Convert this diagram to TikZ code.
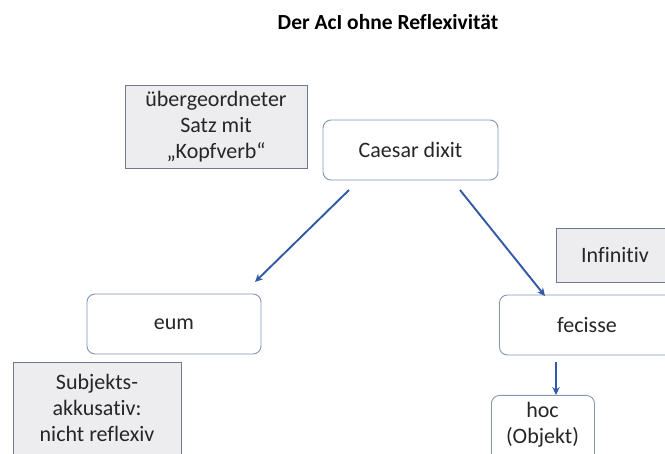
\documentclass[tikz,border=0pt]{standalone}
\usepackage{fontspec}
\setmainfont{Carlito}[Ligatures=NoCommon]
\usetikzlibrary{arrows.meta}
\definecolor{boxline}{HTML}{8496B0}
\definecolor{greyfill}{HTML}{EDEDEF}
\definecolor{greyline}{HTML}{6E7A8C}
\definecolor{arrowc}{HTML}{3159A8}
\definecolor{textc}{HTML}{262626}
\tikzset{
  roundbox/.style={draw=boxline, line width=0.9pt, rounded corners=8pt, fill=white, text=textc, font=\fontsize{22}{26}\selectfont, align=center},
  greybox/.style={draw=greyline, line width=0.9pt, fill=greyfill, text=textc, font=\fontsize{22}{26}\selectfont, align=center},
  lbl/.style={text=textc, font=\fontsize{22}{26}\selectfont, align=center, inner sep=0pt},
  arr/.style={draw=arrowc, line width=1.9pt, -{Stealth[length=8pt,width=7.5pt]}},
}
\begin{document}
\begin{tikzpicture}[x=1pt,y=-1pt]
\useasboundingbox (0,0) rectangle (665,454);
\clip (0,0) rectangle (665,454);
\node[font=\bfseries\fontsize{21.5}{24}\selectfont, text=black] (title) at (388,22) {Der AcI ohne Reflexivität};
% grey boxes
\node[greybox, minimum width=182pt, minimum height=83pt] (kopf) at (216,126.5) {übergeordneter\\Satz mit\\„Kopfverb“};
\node[greybox, minimum width=140pt, minimum height=54pt, anchor=north west] (inf) at (556,228) {};
\node[lbl] (inft) at (615,255) {Infinitiv};
\node[greybox, minimum width=168pt, minimum height=110pt, anchor=north west, inner sep=0pt] (subj) at (13,362) {};
\node[lbl, anchor=north] (subjt) at (97,374) {Subjekts-\\akkusativ:\\nicht reflexiv};
% rounded boxes
\node[roundbox, minimum width=175pt, minimum height=60pt] (caesar) at (410.5,150) {Caesar dixit};
\node[roundbox, minimum width=174pt, minimum height=60pt] (eum) at (174,324) {eum};
\node[roundbox, minimum width=190pt, minimum height=60pt, anchor=west] (fec) at (499,325) {};
\node[lbl] (fect) at (587,325) {fecisse};
\node[roundbox, minimum width=103pt, minimum height=80pt, anchor=north west, inner sep=0pt] (hoc) at (491,395) {};
\node[lbl, anchor=north] (hoct) at (542.5,402) {hoc\\(Objekt)};
% arrows
\coordinate (a1s) at (349,190);
\coordinate (a1e) at (255,282);
\coordinate (a2s) at (460,190);
\coordinate (a2e) at (545,296);
\coordinate (a3s) at (556,362);
\draw[arr] (a1s) -- (a1e);
\draw[arr] (a2s) -- (a2e);
\draw[arr, line width=1.6pt] (a3s) -- (hoc.north -| a3s);
\end{tikzpicture}
\end{document}
